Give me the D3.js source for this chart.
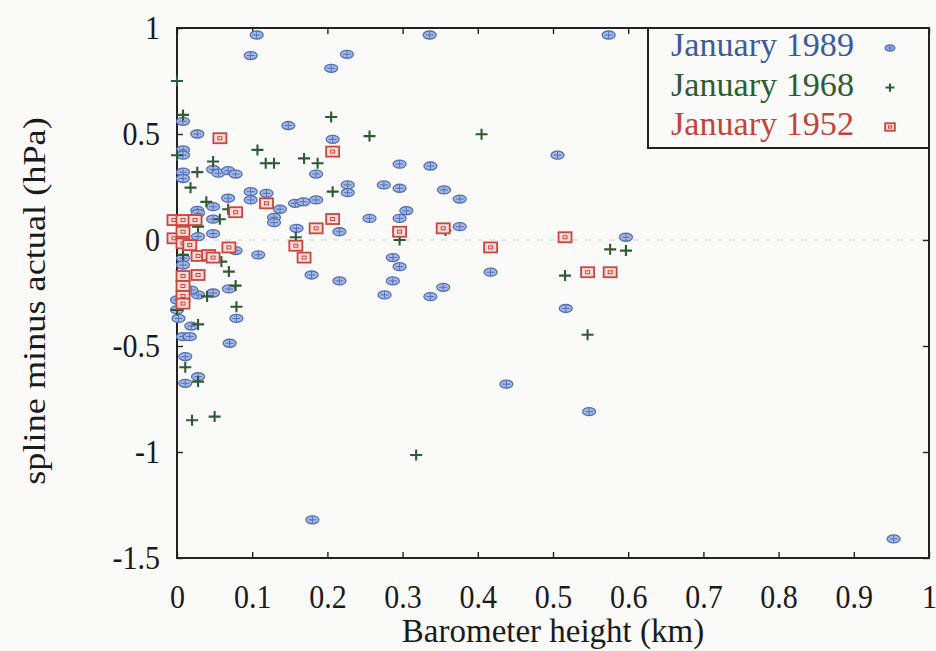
<!DOCTYPE html>
<html>
<head>
<meta charset="utf-8">
<script src="https://cdn.jsdelivr.net/npm/d3@7"></script>
<style>
  body { margin: 0; background: #fafaf8; }
  svg { display: block; }
  text { font-family: "Liberation Serif", "DejaVu Serif", serif; }
</style>
</head>
<body>
<svg id="chart" width="936" height="651"></svg>
<script>
// Axis ticks
const xTicks = [0, 0.1, 0.2, 0.3, 0.4, 0.5, 0.6, 0.7, 0.8, 0.9, 1];
const yTicks = [1, 0.5, 0, -0.5, -1, -1.5];

// Series labels
const seriesNames = ["January 1989", "January 1968", "January 1952"];

// [barometer height (km), spline minus actual (hPa)]
const jan1989 = [
  [0.106, 0.967], [0.098, 0.87], [0.336, 0.967], [0.574, 0.967], [0.205, 0.81], [0.226, 0.876],
  [0.148, 0.54], [0.008, 0.56], [0.027, 0.50], [0.207, 0.475], [0.008, 0.425], [0.008, 0.40],
  [0.008, 0.32], [0.008, 0.29], [0.048, 0.333], [0.055, 0.315], [0.068, 0.327], [0.078, 0.311],
  [0.185, 0.311], [0.227, 0.26], [0.227, 0.223], [0.296, 0.358], [0.337, 0.349], [0.275, 0.26],
  [0.296, 0.244], [0.355, 0.236], [0.376, 0.193], [0.506, 0.40], [0.048, 0.157], [0.068, 0.197],
  [0.098, 0.228], [0.098, 0.189], [0.119, 0.22], [0.137, 0.145], [0.157, 0.173], [0.168, 0.18],
  [0.185, 0.189], [0.129, 0.107], [0.129, 0.082], [0.159, 0.055], [0.185, 0.055], [0.216, 0.039],
  [0.256, 0.102], [0.296, 0.102], [0.305, 0.138], [0.376, 0.063], [0.597, 0.013], [0.027, 0.14],
  [0.048, 0.098], [0.028, 0.126], [0.028, 0.016], [0.048, 0.03], [0.108, -0.07], [0.078, -0.05],
  [0.179, -0.165], [0.216, -0.193], [0.287, -0.083], [0.296, -0.126], [0.287, -0.193], [0.276, -0.259],
  [0.337, -0.267], [0.354, -0.223], [0.417, -0.152], [0.069, -0.231], [0.048, -0.25], [0.028, -0.259],
  [0.008, -0.086], [0.008, -0.118], [0.019, -0.236], [0.079, -0.37], [0.07, -0.487], [0.019, -0.406],
  [0.008, -0.456], [0.017, -0.456], [0.011, -0.55], [0.011, -0.676], [0.028, -0.645], [0, -0.283],
  [0, -0.33], [0.002, -0.37], [0.517, -0.323], [0.438, -0.68], [0.548, -0.81], [0.953, -1.41],
  [0.18, -1.32]
];

const jan1968 = [
  [0, 0.75], [0.008, 0.59], [0, 0.40], [0.027, 0.32], [0.018, 0.247], [0.048, 0.37],
  [0.107, 0.425], [0.118, 0.362], [0.129, 0.362], [0.169, 0.385], [0.187, 0.362], [0.205, 0.58],
  [0.256, 0.49], [0.207, 0.228], [0.405, 0.499], [0.039, 0.18], [0.068, 0.145], [0.057, 0.098],
  [0.028, 0.063], [0.158, 0.013], [0.296, 0.0], [0.357, 0.045], [0.008, -0.07], [0.059, -0.102],
  [0.069, -0.149], [0.078, -0.215], [0.040, -0.266], [0.079, -0.315], [0.028, -0.398], [0, -0.33],
  [0.011, -0.6], [0.028, -0.668], [0.02, -0.85], [0.05, -0.833], [0.318, -1.014], [0.516, -0.168],
  [0.546, -0.447], [0.576, -0.044], [0.597, -0.05]
];

const jan1952 = [
  [0.057, 0.48], [0.207, 0.417], [0.078, 0.131], [0.119, 0.173], [0.158, -0.027], [0.169, -0.083],
  [0.185, 0.055], [0.207, 0.099], [0.296, 0.039], [0.354, 0.055], [0.069, -0.035], [0.028, -0.075],
  [0.042, -0.071], [0.048, -0.083], [0.028, -0.165], [0.417, -0.035], [0.516, 0.013], [0.546, -0.152],
  [0.576, -0.152], [-0.004, 0.094], [0.008, 0.094], [0.024, 0.094], [-0.004, 0.008], [0.008, 0.039],
  [0.008, -0.016], [0.017, -0.024], [0.008, -0.17], [0.008, -0.217], [0.008, -0.264], [0.008, -0.30]
];

const colors = { blue: "#3d5a9c", green: "#2f5a36", red: "#c2433c" };
const serif = "Liberation Serif, DejaVu Serif, serif";

const svg = d3.select("#chart");
const W = 936, H = 651;
const margin = { left: 177, right: 7, top: 28, bottom: 93 };
const x = d3.scaleLinear().domain([0, 1]).range([margin.left, W - margin.right]);
const y = d3.scaleLinear().domain([-1.5, 1]).range([H - margin.bottom, margin.top]);

svg.append("rect").attr("width", W).attr("height", H).attr("fill", "#fafaf8");

// zero reference line
svg.append("line")
  .attr("x1", x(0)).attr("x2", x(1))
  .attr("y1", y(0)).attr("y2", y(0))
  .attr("stroke", "#cfcfcf").attr("stroke-width", 1.2)
  .attr("stroke-dasharray", "6,6");

// axes with inward ticks on all four sides
function styleAxis(g) {
  g.attr("font-family", serif);
  g.select(".domain").remove();
  g.selectAll(".tick line").attr("stroke", "#222").attr("stroke-width", 1.4);
}
const xAxisB = d3.axisBottom(x).tickValues(xTicks).tickSize(-6).tickFormat(d => String(d));
const xAxisT = d3.axisTop(x).tickValues(xTicks).tickSize(-6).tickFormat("");
const yAxisL = d3.axisLeft(y).tickValues(yTicks).tickSize(-6).tickFormat(d => String(d));
const yAxisR = d3.axisRight(y).tickValues(yTicks).tickSize(-6).tickFormat("");

const gxB = svg.append("g").attr("transform", `translate(0,${y(-1.5)})`).call(xAxisB).call(styleAxis);
svg.append("g").attr("transform", `translate(0,${y(1)})`).call(xAxisT).call(styleAxis);
const gyL = svg.append("g").attr("transform", `translate(${x(0)},0)`).call(yAxisL).call(styleAxis);
svg.append("g").attr("transform", `translate(${x(1)},0)`).call(yAxisR).call(styleAxis);

gxB.selectAll(".tick text")
  .attr("y", 0).attr("dy", null)
  .attr("transform", "translate(0,50) scale(1,1.13)")
  .attr("fill", "#1a1a1a")
  .attr("font-family", serif).attr("font-size", 30);

gyL.selectAll(".tick text")
  .attr("x", 0).attr("dy", null)
  .attr("text-anchor", "end")
  .attr("transform", "translate(-17,10) scale(1,1.13)")
  .attr("fill", "#1a1a1a")
  .attr("font-family", serif).attr("font-size", 30);

// frame
svg.append("rect")
  .attr("x", x(0)).attr("y", y(1))
  .attr("width", x(1) - x(0)).attr("height", y(-1.5) - y(1))
  .attr("fill", "none").attr("stroke", "#222").attr("stroke-width", 2);

// axis titles
svg.append("text")
  .attr("transform", `translate(${(x(0) + x(1)) / 2},642) scale(1,1.03)`)
  .attr("text-anchor", "middle")
  .attr("fill", "#1a1a1a")
  .attr("font-family", serif).attr("font-size", 33)
  .text("Barometer height (km)");

svg.append("text")
  .attr("transform", `translate(45,${(y(1) + y(-1.5)) / 2 + 8}) rotate(-90) scale(1.17,1)`)
  .attr("text-anchor", "middle")
  .attr("fill", "#1a1a1a")
  .attr("font-family", serif).attr("font-size", 31)
  .text("spline minus actual (hPa)");

// marker shapes
function blueMarker(g, s) {
  g.append("ellipse").attr("rx", 6.5 * s).attr("ry", 4 * s)
    .attr("fill", "#a7b9e3").attr("stroke", "#5271b6").attr("stroke-width", 1.3);
  g.append("path").attr("d", `M0,${-3.5 * s}V${3.5 * s}M${-4 * s},0H${4 * s}`)
    .attr("stroke", "#5271b6").attr("stroke-width", 1);
}
function greenMarker(g, s) {
  g.append("path").attr("d", `M${-6 * s},0H${6 * s}M0,${-5.5 * s}V${5.5 * s}`)
    .attr("stroke", "#2f5a36").attr("stroke-width", 2.1);
}
function redMarker(g, s) {
  g.append("rect").attr("x", -6.5 * s).attr("y", -5 * s).attr("width", 13 * s).attr("height", 10 * s)
    .attr("fill", "#f7ddd9").attr("stroke", "#c9463f").attr("stroke-width", 1.8);
  g.append("rect").attr("x", -2 * s).attr("y", -1.5 * s).attr("width", 4 * s).attr("height", 3 * s)
    .attr("fill", "none").attr("stroke", "#c9463f").attr("stroke-width", 1);
}

function drawSeries(data, marker) {
  svg.append("g").selectAll("g").data(data).join("g")
    .attr("transform", d => `translate(${x(d[0])},${y(d[1])})`)
    .each(function () { marker(d3.select(this), 1); });
}
drawSeries(jan1989, blueMarker);
drawSeries(jan1968, greenMarker);
drawSeries(jan1952, redMarker);

// legend
const legend = svg.append("g");
legend.append("rect")
  .attr("x", 648).attr("y", y(1))
  .attr("width", x(1) - 648).attr("height", 120)
  .attr("fill", "#fafaf8").attr("stroke", "#222").attr("stroke-width", 2);
const legendItems = [
  { name: seriesNames[0], color: colors.blue, marker: blueMarker },
  { name: seriesNames[1], color: colors.green, marker: greenMarker },
  { name: seriesNames[2], color: colors.red, marker: redMarker }
];
legendItems.forEach((it, i) => {
  const cy = 48 + i * 39.5;
  legend.append("text")
    .attr("x", 671).attr("y", cy + 8)
    .attr("fill", it.color)
    .attr("font-family", serif).attr("font-size", 34)
    .attr("textLength", 183).attr("lengthAdjust", "spacingAndGlyphs")
    .text(it.name);
  const g = legend.append("g").attr("transform", `translate(890,${cy})`);
  it.marker(g, 0.75);
});
</script>
</body>
</html>
